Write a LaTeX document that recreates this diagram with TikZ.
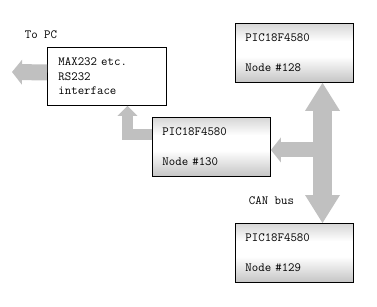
\documentclass[tikz,border=0pt]{standalone}
\usetikzlibrary{arrows.meta,positioning}
\definecolor{busgray}{RGB}{192,192,192}
\definecolor{boxtop}{RGB}{214,214,214}
\definecolor{boxbottom}{RGB}{196,196,196}
\pgfdeclareverticalshading{boardfill}{100bp}{color(0bp)=(boxbottom); color(25bp)=(boxbottom);
  color(47bp)=(white); color(60bp)=(white); color(75bp)=(boxtop); color(100bp)=(boxtop)}

\begin{document}
\begin{tikzpicture}[x=1pt,y=-1pt,font=\ttfamily\fontsize{12.5}{14}\selectfont]
  \tikzset{
    picbox/.style={draw,line width=0.9pt,shading=boardfill,
      anchor=north west,minimum width=118pt,minimum height=59pt,text width=98pt,inner xsep=10pt,
      align=left,font=\ttfamily\fontsize{12.5}{30}\selectfont},
    ifbox/.style={draw,line width=0.9pt,fill=white,anchor=north west,minimum width=119pt,
      minimum height=58pt,text width=97pt,inner xsep=11pt,align=left,font=\ttfamily\fontsize{12.5}{14.5}\selectfont},
    bus/.style={draw=busgray,line width=19pt},
    link/.style={draw=busgray,line width=#1},
    bigtip/.tip={Triangle[width=35pt,length=28pt,line width=0pt]},
  }
  \useasboundingbox (0,0) rectangle (377,307);

  % boards
  \node[picbox] (n128) at (235,23) {PIC18F4580\\Node \#128};
  \node[picbox] (n130) at (152,117) {PIC18F4580\\Node \#130};
  \node[picbox] (n129) at (235,223) {PIC18F4580\\Node \#129};
  \node[ifbox] (max) at (47,47) {MAX232 etc.\\RS232\\interface};

  \node (topc) at (41,35) {To PC};
  \node (canlbl) at (271.5,201) {CAN bus};

  \coordinate (busx) at (322.5,0);
  \coordinate (pc) at (12,72);

  % CAN bus and the links hanging off it
  \draw[bus,bigtip-bigtip] (n128.south -| busx) -- (n129.north -| busx);
  \draw[link=15pt,-{Triangle[width=25pt,length=10pt,line width=0pt]}]
    ([yshift=-3pt]n130.east -| busx) -- ([yshift=-3pt]n130.east);
  \draw[link=11pt,-{Triangle[width=20pt,length=10pt,line width=0pt]}]
    ([yshift=12.5pt]n130.west) -| ([xshift=20.5pt]max.south);
  \draw[link=16pt,-{Triangle[width=25pt,length=10pt,line width=0pt]}]
    ([yshift=4pt]max.west) -- (pc);
\end{tikzpicture}
\end{document}
